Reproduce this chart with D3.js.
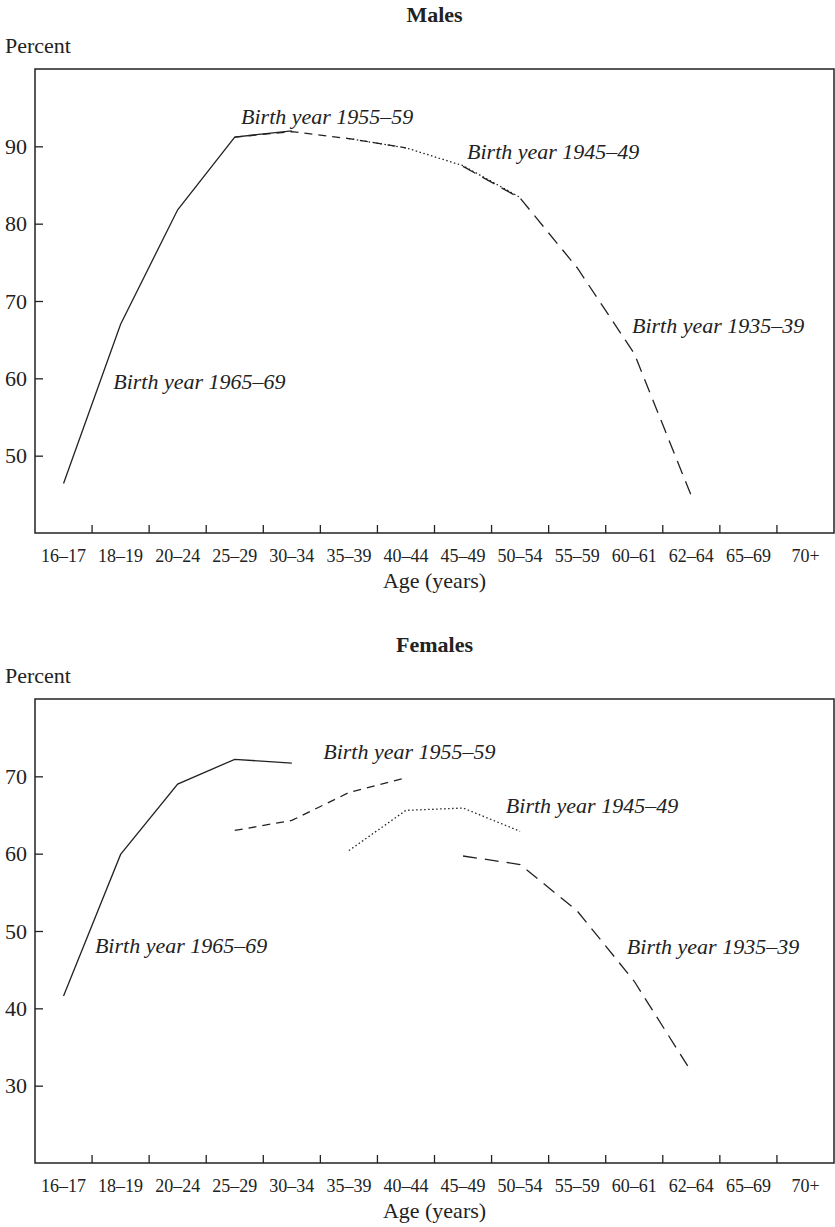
<!DOCTYPE html>
<html>
<head>
<meta charset="utf-8">
<script src="https://cdn.jsdelivr.net/npm/d3@7"></script>
<style>
  body { margin: 0; background: #fff; }
  svg { display: block; font-family: "Liberation Serif", "DejaVu Serif", serif; }
</style>
</head>
<body>
<div id="chart"></div>
<script>
// age groups on the x axis
const ageGroups = ["16–17", "18–19", "20–24", "25–29", "30–34", "35–39", "40–44",
    "45–49", "50–54", "55–59", "60–61", "62–64", "65–69", "70+"];

// cohorts, and the age group where each cohort's line starts
const cohortNames = ["1965–69", "1955–59", "1945–49", "1935–39"];
const cohortStart = ["16–17", "25–29", "35–39", "45–49"];

// percent values
const maleValues = [
    [46.4, 67.0, 81.8, 91.2, 92.0],
    [91.2, 91.9, 91.0, 89.8],
    [91.0, 89.8, 87.5, 83.4],
    [87.4, 83.3, 74.3, 63.2, 44.8]
];
const femaleValues = [
    [41.6, 59.9, 69.0, 72.2, 71.7],
    [63.0, 64.3, 67.9, 69.8],
    [60.4, 65.6, 65.9, 62.9],
    [59.7, 58.6, 52.6, 43.5, 31.8]
];

const maleTicks = [50, 60, 70, 80, 90];
const femaleTicks = [30, 40, 50, 60, 70];

// label anchor: [position in age-group units, percent]
const maleLabelPos = [[1.37, 58.6], [3.61, 92.85], [7.57, 88.3], [10.46, 65.8]];
const femaleLabelPos = [[1.05, 47.1], [5.05, 72.3], [8.25, 65.2], [10.37, 47.0]];

const dashes = [null, "8,6", "1.5,2.5", "14,8"];

const W = 835, H = 1227;
const svg = d3.select("#chart").append("svg")
    .attr("width", W)
    .attr("height", H);

function drawPanel(top, title, values, yDomain, yTicks, labelPos) {
    let margin = {left: 35, right: 1, top: top, height: 464};
    let width = W - margin.left - margin.right;
    let height = margin.height;

    let g = svg.append("g")
        .attr("transform", "translate(" + margin.left + "," + margin.top + ")");

    let x = d3.scaleBand().domain(ageGroups).range([0, width]).padding(0);
    let xPos = d3.scaleLinear().domain([0, ageGroups.length]).range([0, width]);
    let y = d3.scaleLinear().domain(yDomain).range([height, 0]);

    // title + y label
    g.append("text")
        .attr("x", width / 2)
        .attr("y", -47)
        .attr("text-anchor", "middle")
        .attr("font-weight", "bold")
        .attr("font-size", 22)
        .attr("fill", "#222")
        .text(title);

    g.append("text")
        .attr("x", -30)
        .attr("y", -16)
        .attr("font-size", 22)
        .attr("fill", "#222")
        .text("Percent");

    // frame
    g.append("rect")
        .attr("x", 0).attr("y", 0)
        .attr("width", width).attr("height", height)
        .attr("fill", "none")
        .attr("stroke", "#222")
        .attr("stroke-width", 1.5);

    // y axis
    let yAxis = d3.axisLeft(y).tickValues(yTicks).tickSize(-8).tickPadding(8);
    let ya = g.append("g").call(yAxis)
        .attr("font-family", null)
        .attr("font-size", 22);
    ya.select(".domain").remove();
    ya.selectAll("line").attr("stroke", "#222").attr("stroke-width", 1.3);
    ya.selectAll("text").attr("fill", "#222");

    // x axis labels at band centres
    let xAxis = d3.axisBottom(x).tickSize(0).tickPadding(16);
    let xa = g.append("g").attr("transform", "translate(0," + height + ")").call(xAxis)
        .attr("font-family", null)
        .attr("font-size", 18);
    xa.select(".domain").remove();
    xa.selectAll("text").attr("fill", "#222");

    // ticks on the boundaries between groups, pointing up
    g.selectAll(".bound")
        .data(ageGroups.slice(1))
        .enter().append("line")
        .attr("class", "bound")
        .attr("x1", d => x(d)).attr("x2", d => x(d))
        .attr("y1", height).attr("y2", height - 8)
        .attr("stroke", "#222")
        .attr("stroke-width", 1.3);

    g.append("text")
        .attr("x", width / 2)
        .attr("y", height + 55)
        .attr("text-anchor", "middle")
        .attr("font-size", 22)
        .attr("fill", "#222")
        .text("Age (years)");

    // cohort lines
    let line = d3.line()
        .x(d => x(d.age) + x.bandwidth() / 2)
        .y(d => y(d.v));

    values.forEach(function(vals, i) {
        let start = ageGroups.indexOf(cohortStart[i]);
        let pts = vals.map((v, j) => ({age: ageGroups[start + j], v: v}));
        g.append("path")
            .datum(pts)
            .attr("fill", "none")
            .attr("stroke", "#222")
            .attr("stroke-width", 1.3)
            .attr("stroke-dasharray", dashes[i])
            .attr("d", line);

        g.append("text")
            .attr("x", xPos(labelPos[i][0]))
            .attr("y", y(labelPos[i][1]))
            .attr("font-size", 22)
            .attr("font-style", "italic")
            .attr("fill", "#222")
            .text("Birth year " + cohortNames[i]);
    });
}

drawPanel(69, "Males", maleValues, [40, 100], maleTicks, maleLabelPos);
drawPanel(699, "Females", femaleValues, [20, 80], femaleTicks, femaleLabelPos);
</script>
</body>
</html>
